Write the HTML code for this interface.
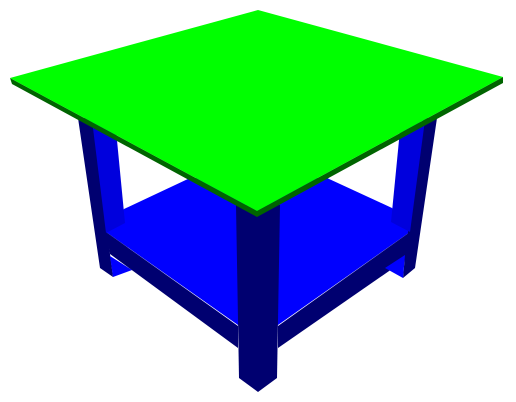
<!DOCTYPE html>
<html><head><style>html,body{margin:0;padding:0;background:#fff}svg{display:block}</style></head>
<body>
<svg width="516" height="402" viewBox="0 0 516 402">
<g>
<polygon points="106,232 124,209 190,178 327,178 392,208 410,232 278,325 238,325" fill="#0000ff"/>
<polygon points="106,232 238,326 238,348 110,254" fill="#000070"/>
<polygon points="278,326 410,232 415,253 278,348" fill="#000070"/>
</g>
<g>
<polygon points="78,118 92,118 107,232 110,254 113,277 100,268" fill="#000070"/>
<polygon points="92,120 116,130 125,223 106,233" fill="#0000dd"/>
<polygon points="110,256 132,270 113,277" fill="#0000ff"/>
</g>
<g>
<polygon points="423,118 437,118 415,268 403,278 405,255" fill="#000070"/>
<polygon points="400,130 425,120 410,232 391,222" fill="#0000dd"/>
<polygon points="385,268 405,255 403,278" fill="#0000ff"/>
</g>
<polygon points="236,205 280,205 277,378 258,392 239,378" fill="#000070"/>
<g>
<polygon points="10,78 257,211 503,77 503,83 257,217 12,84" fill="#006400"/>
<polygon points="10,78 258,10 503,77 257,211" fill="#00ff00"/>
</g>
</svg>
</body></html>
